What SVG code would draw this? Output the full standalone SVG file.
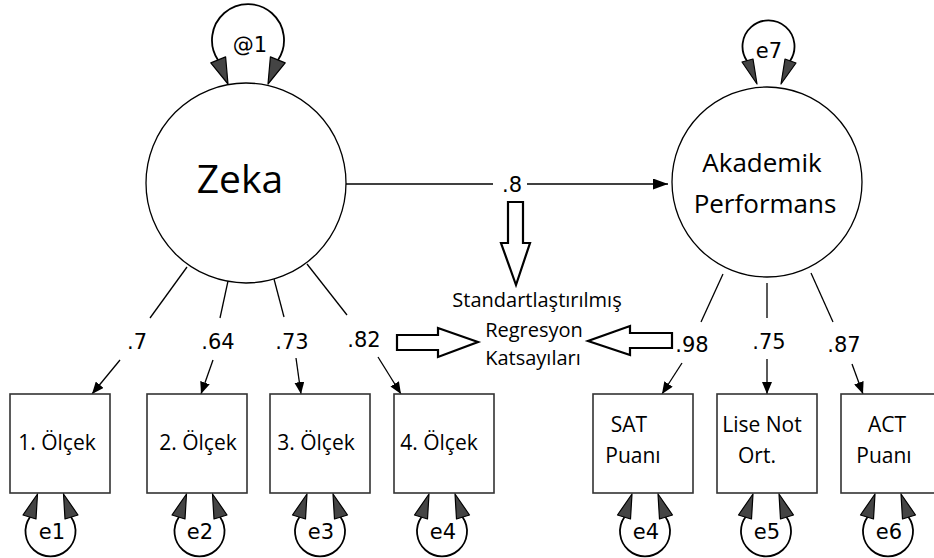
<svg xmlns="http://www.w3.org/2000/svg" xmlns:xlink="http://www.w3.org/1999/xlink" width="934" height="558" viewBox="0 0 934 558">
<style>
.bg{fill:#ffffff}
.lat{fill:#ffffff;stroke:#000;stroke-width:1.3}
.box{fill:#ffffff;stroke:#333;stroke-width:1.6}
.ln{fill:none;stroke:#000;stroke-width:1.3}
.loop{fill:none;stroke:#000;stroke-width:1.8}
.ah{fill:#444;stroke:#000;stroke-width:1.2;stroke-linejoin:round}
.blk{fill:#fff;stroke:#000;stroke-width:2.2}
.num{font-family:"DejaVu Sans",sans-serif;font-size:21px;fill:#000;text-anchor:middle}
.err{font-family:"DejaVu Sans",sans-serif;font-size:21px;fill:#000;text-anchor:middle}
.lbl{font-family:"Open Sans","Noto Sans",sans-serif;font-size:21px;fill:#000;text-anchor:middle}
.big{font-family:"Open Sans","Noto Sans",sans-serif;font-size:26px;fill:#000;text-anchor:middle}
.note{font-family:"Open Sans","Noto Sans",sans-serif;font-size:20px;fill:#000;text-anchor:middle}
</style>
<defs>
<marker id="arr" viewBox="0 0 12 10" refX="12" refY="5" markerWidth="12" markerHeight="10" markerUnits="userSpaceOnUse" orient="auto">
<path d="M0,0 L12,5 L0,10 z" fill="#000"/>
</marker>
<marker id="arrBig" viewBox="0 0 15 11" refX="15" refY="5.5" markerWidth="15" markerHeight="11" markerUnits="userSpaceOnUse" orient="auto">
<path d="M0,0 L15,5.5 L0,11 z" fill="#000"/>
</marker>
<g id="errloop">
<path class="loop" d="M -20.5 517 A 25 25 0 1 0 20.5 517"/>
<polygon class="ah" points="-13,494 -27.5,515 -14.5,519"/>
<polygon class="ah" points="13,494 14.5,519 27.5,515"/>
</g>
</defs>
<rect class="bg" x="0" y="0" width="934" height="558"/>

<g id="connectors">
<line class="ln" x1="346" y1="184" x2="493" y2="184"/>
<line class="ln" x1="527" y1="184" x2="668" y2="184" marker-end="url(#arrBig)"/>
<text class="num" x="512" y="192">.8</text>

<line class="ln" x1="187" y1="267" x2="150" y2="318"/>
<line class="ln" x1="120" y1="360" x2="92" y2="394" marker-end="url(#arr)"/>
<text class="num" x="137" y="349">.7</text>
<line class="ln" x1="228" y1="281" x2="220" y2="318"/>
<line class="ln" x1="213" y1="360" x2="201" y2="394" marker-end="url(#arr)"/>
<text class="num" x="218" y="349">.64</text>
<line class="ln" x1="274" y1="279" x2="284" y2="317"/>
<line class="ln" x1="296" y1="358" x2="301" y2="394" marker-end="url(#arr)"/>
<text class="num" x="292" y="349">.73</text>
<line class="ln" x1="307" y1="264" x2="347" y2="315"/>
<line class="ln" x1="378" y1="357" x2="401" y2="394" marker-end="url(#arr)"/>
<text class="num" x="364" y="347">.82</text>

<line class="ln" x1="723" y1="274" x2="701" y2="322"/>
<line class="ln" x1="682" y1="363" x2="662" y2="394" marker-end="url(#arr)"/>
<text class="num" x="692" y="352">.98</text>
<line class="ln" x1="767" y1="283" x2="767" y2="318"/>
<line class="ln" x1="767" y1="359" x2="767" y2="394" marker-end="url(#arr)"/>
<text class="num" x="769" y="349">.75</text>
<line class="ln" x1="811" y1="273" x2="833" y2="322"/>
<line class="ln" x1="852" y1="364" x2="863" y2="394" marker-end="url(#arr)"/>
<text class="num" x="844" y="352">.87</text>
</g>

<g id="zeka">
<circle class="lat" cx="246" cy="183" r="100"/>
<text x="240" y="193" font-family="'Open Sans','Noto Sans',sans-serif" font-size="39" text-anchor="middle">Zeka</text>
<path class="loop" d="M 218 60 A 36 36 0 1 1 278 60"/>
<polygon class="ah" points="228,84 225.6,56.9 210.8,62.9"/>
<polygon class="ah" points="268,84 270.4,56.9 285.2,62.9"/>
<text class="err" x="250" y="52">@1</text>
</g>

<g id="akademik">
<circle class="lat" cx="767" cy="182" r="95"/>
<text class="big" x="762" y="172">Akademik</text>
<text class="big" x="765" y="213">Performans</text>
<path class="loop" d="M 747 61 A 26 26 0 1 1 790 61"/>
<polygon class="ah" points="757,84 742,62 753,59"/>
<polygon class="ah" points="781,84 785,59 796,63"/>
<text class="err" x="769" y="58">e7</text>
</g>

<g id="note">
<polygon class="blk" points="508,202 523,202 523,243 530,243 516,285 501,243 508,243"/>
<polygon class="blk" points="397,335 438,335 438,328 478,342 438,357 438,350 397,350"/>
<polygon class="blk" points="672,333 672,348 630,348 630,355 588,341 630,326 630,333"/>
<text class="note" x="537" y="307">Standartlaştırılmış</text>
<text class="note" x="534" y="337">Regresyon</text>
<text class="note" x="533" y="365">Katsayıları</text>
</g>

<g id="olcek1">
<rect class="box" x="10" y="394" width="100" height="99"/>
<text class="lbl" x="57" y="450">1. Ölçek</text>
<use xlink:href="#errloop" transform="translate(50.5,0)"/>
<text class="err" x="52" y="539">e1</text>
</g>
<g id="olcek2">
<rect class="box" x="147" y="394" width="100" height="99"/>
<text class="lbl" x="198" y="450">2. Ölçek</text>
<use xlink:href="#errloop" transform="translate(199.5,0)"/>
<text class="err" x="200" y="539">e2</text>
</g>
<g id="olcek3">
<rect class="box" x="270" y="394" width="100" height="99"/>
<text class="lbl" x="316" y="450">3. Ölçek</text>
<use xlink:href="#errloop" transform="translate(320,0)"/>
<text class="err" x="321" y="539">e3</text>
</g>
<g id="olcek4">
<rect class="box" x="394" y="394" width="100" height="99"/>
<text class="lbl" x="439" y="450">4. Ölçek</text>
<use xlink:href="#errloop" transform="translate(442,0)"/>
<text class="err" x="443" y="539">e4</text>
</g>
<g id="sat">
<rect class="box" x="593" y="394" width="100" height="99"/>
<text class="lbl" x="629" y="432">SAT</text>
<text class="lbl" x="633" y="463">Puanı</text>
<use xlink:href="#errloop" transform="translate(645,0)"/>
<text class="err" x="646" y="539">e4</text>
</g>
<g id="lise">
<rect class="box" x="717" y="394" width="100" height="99"/>
<text class="lbl" x="762" y="432">Lise Not</text>
<text class="lbl" x="757" y="463">Ort.</text>
<use xlink:href="#errloop" transform="translate(766,0)"/>
<text class="err" x="767" y="539">e5</text>
</g>
<g id="act">
<rect class="box" x="841" y="394" width="100" height="99"/>
<text class="lbl" x="887" y="432">ACT</text>
<text class="lbl" x="884" y="463">Puanı</text>
<use xlink:href="#errloop" transform="translate(888,0)"/>
<text class="err" x="889" y="539">e6</text>
</g>
</svg>
